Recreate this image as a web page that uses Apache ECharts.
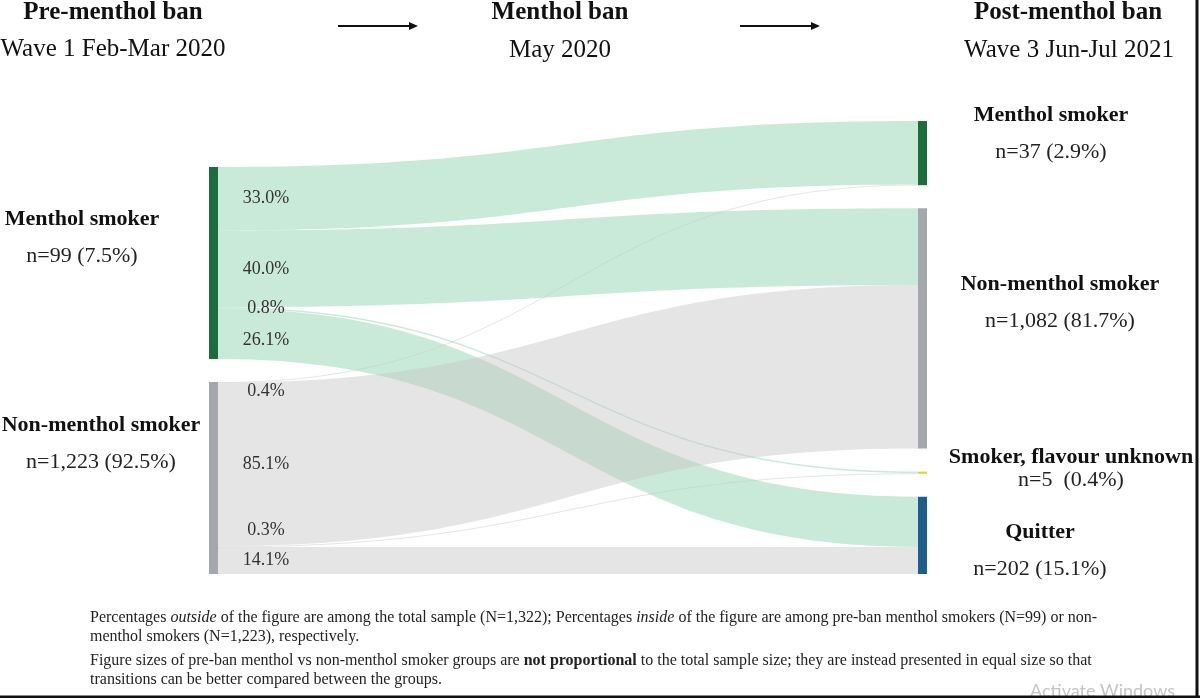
<!DOCTYPE html>
<html>
<head>
<meta charset="utf-8">
<script src="https://cdn.jsdelivr.net/npm/echarts@6/dist/echarts.min.js"></script>
<style>
  html, body { margin: 0; padding: 0; background: #fff; }
  #main { width: 1200px; height: 698px; }
</style>
</head>
<body>
<div id="main"></div>
<script>
// pre-ban groups (left) and wave 3 outcome groups (right)
const leftIds = ['preMenthol', 'preNonMenthol'];
const leftTitles = ['Menthol smoker', 'Non-menthol smoker'];
const leftCounts = ['n=99 (7.5%)', 'n=1,223 (92.5%)'];

const rightIds = ['postMenthol', 'postNonMenthol', 'postUnknown', 'postQuitter'];
const rightTitles = ['Menthol smoker', 'Non-menthol smoker', 'Smoker, flavour unknown', 'Quitter'];
const rightCounts = ['n=37 (2.9%)', 'n=1,082 (81.7%)', 'n=5  (0.4%)', 'n=202 (15.1%)'];

// transitions, percent within each pre-ban group
const fromMenthol = [33.0, 40.0, 0.8, 26.1];
const fromNonMenthol = [0.4, 85.1, 0.3, 14.1];

const SERIF = "'Liberation Serif', 'Times New Roman', serif";
const nodeColors = {
  preMenthol: '#1c6d3b', preNonMenthol: '#a4a8ac',
  postMenthol: '#1c6d3b', postNonMenthol: '#a4a8ac', postUnknown: '#d9d92a', postQuitter: '#1f5e8c'
};
// label placement: [distance from node, vertical offset]
const labelPlace = {
  preMenthol: [127, -25], preNonMenthol: [108, -34],
  postMenthol: [124, -19], postNonMenthol: [133, -26], postUnknown: [144, -4], postQuitter: [113, 15]
};

const chart = echarts.init(document.getElementById('main'));

function nodeItem(id, title, count, side, localY) {
  const lh = id === 'postUnknown' ? 23 : 37;
  const item = {
    name: id,
    itemStyle: { color: nodeColors[id], borderWidth: 0 },
    label: {
      show: true,
      position: side,
      align: 'center',
      distance: labelPlace[id][0],
      offset: [0, labelPlace[id][1]],
      formatter: '{t|' + title + '}\n{n|' + count + '}',
      rich: {
        t: { fontFamily: SERIF, fontWeight: 'bold', fontSize: 22, color: '#111', lineHeight: lh },
        n: { fontFamily: SERIF, fontSize: 22, color: '#222', lineHeight: lh }
      }
    }
  };
  if (localY != null) item.localY = localY;
  return item;
}

function buildNodes(leftLocalY) {
  const nodes = [];
  leftIds.forEach((id, i) => nodes.push(nodeItem(id, leftTitles[i], leftCounts[i], 'left', leftLocalY ? leftLocalY[i] : null)));
  rightIds.forEach((id, i) => nodes.push(nodeItem(id, rightTitles[i], rightCounts[i], 'right', null)));
  return nodes;
}

const links = [];
rightIds.forEach((id, i) => links.push({
  source: 'preMenthol', target: id, value: fromMenthol[i],
  lineStyle: { color: '#a6dcbf', opacity: 0.6 }
}));
rightIds.forEach((id, i) => links.push({
  source: 'preNonMenthol', target: id, value: fromNonMenthol[i],
  lineStyle: { color: '#c6c6c6', opacity: 0.45 }
}));

chart.setOption({
  backgroundColor: '#fff',
  animation: false,
  series: [{
    type: 'sankey',
    left: 209, top: 121, right: 273, bottom: 124,
    nodeWidth: 9,
    nodeGap: 23,
    nodeAlign: 'justify',
    layoutIterations: 0,
    draggable: false,
    emphasis: { disabled: true },
    lineStyle: { curveness: 0.5 },
    data: buildNodes(null),
    links: links
  }]
});

// header, arrows, footnote, frame
const head = (x, y, text, bold) => ({
  type: 'text', x: x, y: y,
  style: { text: text, fill: '#111', font: (bold ? 'bold ' : '') + '25px ' + SERIF, textAlign: 'center', textVerticalAlign: 'middle' }
});
const arrow = (x1, x2, y) => ([
  { type: 'line', shape: { x1: x1, y1: y, x2: x2 - 6, y2: y }, style: { stroke: '#111', lineWidth: 2 } },
  { type: 'polygon', shape: { points: [[x2 - 9, y - 4], [x2, y], [x2 - 9, y + 4]] }, style: { fill: '#111' } }
]);
const noteRich = {
  i: { fontFamily: SERIF, fontSize: 16, fontStyle: 'italic', fill: '#222' },
  b: { fontFamily: SERIF, fontSize: 16, fontWeight: 'bold', fill: '#222' }
};
const note = (y, text) => ({
  type: 'text', x: 90, y: y,
  style: { text: text, rich: noteRich, font: '16px ' + SERIF, fill: '#222', textVerticalAlign: 'middle' }
});

const graphics = [
  head(113, 13, 'Pre-menthol ban', true),
  head(113, 49, 'Wave 1 Feb-Mar 2020', false),
  head(560, 13, 'Menthol ban', true),
  head(560, 50, 'May 2020', false),
  head(1068, 13, 'Post-menthol ban', true),
  head(1069, 50, 'Wave 3 Jun-Jul 2021', false),
  ...arrow(338, 418, 26),
  ...arrow(740, 820, 26),
  note(618, 'Percentages {i|outside} of the figure are among the total sample (N=1,322); Percentages {i|inside} of the figure are among pre-ban menthol smokers (N=99) or non-'),
  note(637, 'menthol smokers (N=1,223), respectively.'),
  note(661, 'Figure sizes of pre-ban menthol vs non-menthol smoker groups are {b|not proportional} to the total sample size; they are instead presented in equal size so that'),
  note(680, 'transitions can be better compared between the groups.'),
  { type: 'text', x: 1030, y: 691, style: { text: 'Activate Windows', fill: '#c4c4c4', font: '18px Lato, sans-serif', textVerticalAlign: 'middle' } },
  { type: 'line', shape: { x1: 1197, y1: 0, x2: 1197, y2: 698 }, style: { stroke: '#111', lineWidth: 3 } },
  { type: 'line', shape: { x1: 0, y1: 697, x2: 1200, y2: 697 }, style: { stroke: '#111', lineWidth: 3 } }
];

try {
  const seriesModel = chart.getModel().getSeriesByIndex(0);
  const graph = seriesModel.getGraph();
  const box = seriesModel.layoutInfo;

  // the left column is laid out from the top; move it down so it ends at the bottom like the right column
  const lastLeft = graph.getNodeById('preNonMenthol').getLayout();
  const shift = box.height - (lastLeft.y + lastLeft.dy);
  const leftY = {};
  const leftLocalY = leftIds.map(id => {
    const l = graph.getNodeById(id).getLayout();
    leftY[id] = l.y + shift;
    return (l.y + shift) / box.height;
  });
  chart.setOption({ series: [{ data: buildNodes(leftLocalY) }] });

  // percent labels at the start of each flow
  const groups = {};
  graph.edges.forEach(e => {
    const nl = e.node1.getLayout();
    const el = e.getLayout();
    const id = e.node1.id;
    const ny = box.y + (leftY[id] != null ? leftY[id] : nl.y);
    if (!groups[id]) groups[id] = { top: ny, bottom: ny + nl.dy, x: box.x + nl.x + nl.dx, items: [] };
    groups[id].items.push({ y: ny + el.sy + el.dy / 2, value: e.getValue() });
  });
  Object.keys(groups).forEach(k => {
    const g = groups[k];
    g.items.sort((a, b) => a.y - b.y);
    g.items.forEach((it, i) => {
      it.y = Math.max(it.y, g.top + 9);
      if (i > 0) it.y = Math.max(it.y, g.items[i - 1].y + 24);
    });
    for (let i = g.items.length - 1; i >= 0; i--) {
      if (i === g.items.length - 1) g.items[i].y = Math.min(g.items[i].y + 6, g.bottom - 14);
      else g.items[i].y = Math.min(g.items[i].y, g.items[i + 1].y - 30);
    }
    g.items.forEach(it => graphics.push({
      type: 'text', x: g.x + 48, y: it.y, z: 10,
      style: { text: it.value.toFixed(1) + '%', fill: '#333', font: '18px ' + SERIF, textAlign: 'center', textVerticalAlign: 'middle' }
    }));
  });
} catch (err) {
  console.log(err);
}

chart.setOption({ graphic: graphics });
</script>
</body>
</html>
